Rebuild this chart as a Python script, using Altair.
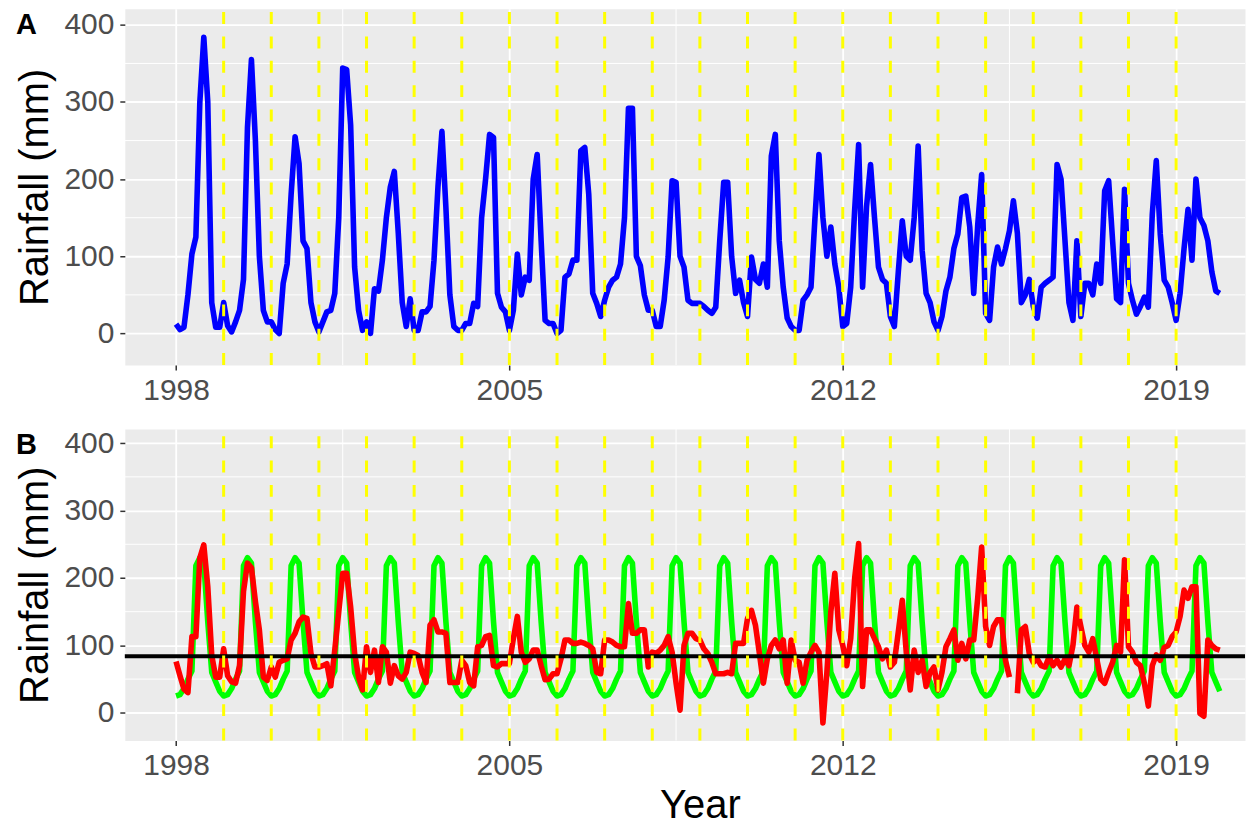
import altair as alt
import pandas as pd

# ---------------- data (monthly, Jan..Dec, 1998-2019) ----------------
blue = [
    12, 5, 8, 50, 103, 125, 300, 384, 300, 40, 8, 8,        # 1998
    40, 10, 2, 15, 30, 70, 267, 355, 250, 100, 30, 15,      # 1999
    15, 5, 0, 65, 90, 180, 255, 220, 120, 110, 40, 15,      # 2000
    2, 15, 28, 30, 52, 150, 344, 342, 270, 86, 30, 4,       # 2001
    15, 0, 58, 55, 95, 150, 190, 210, 130, 40, 9, 45,       # 2002
    4, 4, 28, 28, 35, 95, 190, 262, 163, 50, 9, 4,          # 2003
    4, 13, 13, 39, 35, 150, 200, 258, 254, 52, 34, 28,      # 2004
    4, 30, 103, 50, 73, 69, 200, 232, 120, 17, 13, 13,      # 2005
    0, 4, 73, 77, 95, 95, 237, 241, 180, 52, 39, 22,        # 2006
    43, 60, 69, 73, 90, 150, 292, 292, 100, 88, 50, 30,     # 2007
    30, 9, 9, 43, 99, 198, 196, 100, 86, 43, 39, 39,        # 2008
    39, 35, 30, 26, 34, 120, 196, 196, 100, 52, 69, 40,     # 2009
    22, 99, 70, 65, 90, 60, 230, 258, 120, 60, 20, 9,       # 2010
    4, 4, 43, 50, 60, 150, 232, 150, 100, 138, 90, 60,      # 2011
    9, 13, 60, 160, 245, 60, 165, 219, 150, 86, 70, 65,     # 2012
    22, 9, 80, 146, 100, 95, 150, 243, 108, 52, 40, 15,     # 2013
    4, 22, 55, 73, 110, 129, 176, 178, 138, 52, 140, 206,   # 2014
    26, 17, 86, 112, 90, 110, 133, 172, 130, 40, 50, 70,    # 2015
    35, 20, 60, 65, 69, 73, 219, 200, 120, 40, 17, 120,     # 2016
    22, 65, 65, 50, 90, 65, 185, 198, 120, 45, 40, 187,     # 2017
    65, 43, 25, 35, 47, 34, 155, 224, 129, 69, 60, 40,      # 2018
    17, 52, 110, 161, 95, 200, 150, 140, 120, 80, 55, 52,   # 2019
]

green = [
    25, 27, 36, 50, 62, 218, 230, 222, 135, 60, 46, 32,   # 1998
    25, 27, 36, 50, 62, 218, 230, 222, 135, 60, 46, 32,   # 1999
    25, 27, 36, 50, 62, 218, 230, 222, 135, 60, 46, 32,   # 2000
    25, 27, 36, 50, 62, 218, 230, 222, 135, 60, 46, 32,   # 2001
    25, 27, 36, 50, 62, 218, 230, 222, 135, 60, 46, 32,   # 2002
    25, 27, 36, 50, 62, 218, 230, 222, 135, 60, 46, 32,   # 2003
    25, 27, 36, 50, 62, 218, 230, 222, 135, 60, 46, 32,   # 2004
    25, 27, 36, 50, 62, 218, 230, 222, 135, 60, 46, 32,   # 2005
    25, 27, 36, 50, 62, 218, 230, 222, 135, 60, 46, 32,   # 2006
    25, 27, 36, 50, 62, 218, 230, 222, 135, 60, 46, 32,   # 2007
    25, 27, 36, 50, 62, 218, 230, 222, 135, 60, 46, 32,   # 2008
    25, 27, 36, 50, 62, 218, 230, 222, 135, 60, 46, 32,   # 2009
    25, 27, 36, 50, 62, 218, 230, 222, 135, 60, 46, 32,   # 2010
    25, 27, 36, 50, 62, 218, 230, 222, 135, 60, 46, 32,   # 2011
    25, 27, 36, 50, 62, 218, 230, 222, 135, 60, 46, 32,   # 2012
    25, 27, 36, 50, 62, 218, 230, 222, 135, 60, 46, 32,   # 2013
    25, 27, 36, 50, 62, 218, 230, 222, 135, 60, 46, 32,   # 2014
    25, 27, 36, 50, 62, 218, 230, 222, 135, 60, 46, 32,   # 2015
    25, 27, 36, 50, 62, 218, 230, 222, 135, 60, 46, 32,   # 2016
    25, 27, 36, 50, 62, 218, 230, 222, 135, 60, 46, 32,   # 2017
    25, 27, 36, 50, 62, 218, 230, 222, 135, 60, 46, 32,   # 2018
    25, 27, 36, 50, 62, 218, 230, 222, 135, 60, 46, 32,   # 2019
]

red = [
    76, 55, 35, 30, 113, 113, 230, 249, 187, 85, 53, 53,       # 1998
    95, 55, 46, 44, 70, 180, 222, 215, 165, 123, 53, 48,       # 1999
    68, 53, 75, 78, 80, 108, 118, 135, 142, 140, 88, 68,       # 2000
    68, 70, 73, 40, 93, 150, 207, 207, 157, 88, 53, 34,        # 2001
    98, 60, 93, 45, 98, 90, 44, 70, 55, 50, 60, 90,            # 2002
    88, 85, 60, 45, 130, 138, 120, 120, 118, 45, 45, 45,       # 2003
    78, 70, 45, 40, 98, 100, 113, 115, 70, 68, 73, 73,         # 2004
    73, 110, 143, 90, 75, 80, 93, 93, 70, 49, 50, 58,          # 2005
    58, 80, 108, 108, 103, 103, 105, 103, 100, 95, 60, 58,     # 2006
    108, 108, 105, 100, 98, 98, 162, 118, 118, 123, 123, 68,   # 2007
    90, 88, 93, 100, 113, 90, 44, 4, 100, 118, 118, 110,       # 2008
    108, 95, 88, 75, 58, 58, 58, 60, 58, 103, 103, 103,        # 2009
    140, 152, 130, 88, 44, 80, 100, 108, 95, 108, 44, 108,     # 2010
    78, 75, 44, 78, 90, 100, 90, -15, 60, 150, 207, 123,       # 2011
    100, 70, 110, 200, 251, 39, 123, 123, 110, 98, 80, 93,     # 2012
    68, 75, 120, 167, 90, 34, 93, 60, 78, 39, 60, 68,          # 2013
    34, 60, 98, 110, 123, 78, 103, 80, 108, 108, 170, 246,     # 2014
    128, 100, 128, 138, 138, 78, 53, None, 29, 123, 128, 88,   # 2015
    75, 80, 70, 68, 83, 70, 78, 68, 80, 70, 100, 157,          # 2016
    128, 100, 90, 110, 80, 50, 44, 60, 75, 100, 90, 227,       # 2017
    98, 90, 75, 70, 44, 10, 70, 86, 78, 97, 100, 113,          # 2018
    120, 143, 182, 170, 187, 187, -1, -5, 108, 100, 95, 93,    # 2019
]

mean_line = [84]
season_lines = list(range(1999, 2020))
x_ticks = [1998, 2005, 2012, 2019]
x_minor = [2001.5, 2008.5, 2015.5]
y_ticks = [0, 100, 200, 300, 400]
y_minor = [50, 150, 250, 350]
panel_tags = ["A", "B"]

# ---------------- frames ----------------
n = len(blue)
t = [1998 + i / 12 for i in range(n)]
df = pd.DataFrame({"t": t, "blue": blue, "green": green, "red": red})
vl_df = pd.DataFrame({"yr": season_lines})
xmin_df = pd.DataFrame({"x": x_minor})
ymin_df = pd.DataFrame({"y": y_minor})
hl_df = pd.DataFrame({"y": mean_line})

FONT = "Liberation Sans"
W = 1122
HA = 357
HB = 312
PX_PER_YEAR = 47.7
X0 = 1998 - 51.3 / PX_PER_YEAR
X1 = X0 + W / PX_PER_YEAR

xs = alt.Scale(domain=[X0, X1], nice=False, zero=False)
ys = alt.Scale(domain=[-41, 421], nice=False, zero=False)


def x_axis(title):
    kw = dict(values=x_ticks, format="d", labelPadding=5, labelFlush=False,
              gridWidth=1.8)
    if title:
        return alt.Axis(title=title, titlePadding=5, titleX=576, **kw)
    return alt.Axis(title=None, **kw)


y_axis = alt.Axis(values=y_ticks, title="Rainfall (mm)", labelPadding=6,
                  titlePadding=8, gridWidth=1.8)


def panel(H, tag, tag_y, xtitle, line_layers):
    minor_x = alt.Chart(xmin_df).mark_rule(color="white", strokeWidth=1).encode(
        x=alt.X("x:Q", scale=xs, axis=x_axis(xtitle)))
    minor_y = alt.Chart(ymin_df).mark_rule(color="white", strokeWidth=1).encode(
        y=alt.Y("y:Q", scale=ys, axis=y_axis))
    vlines = alt.Chart(vl_df).mark_rule(
        color="#FFFF00", strokeWidth=3, strokeDash=[12, 12.4]).encode(
        x=alt.X("yr:Q", scale=xs), y=alt.value(H), y2=alt.value(0))
    tag_df = pd.DataFrame({"lab": [tag]})
    label = alt.Chart(tag_df).mark_text(
        align="left", baseline="middle", font=FONT, fontSize=29,
        fontWeight="bold", color="black").encode(
        x=alt.value(-109), y=alt.value(tag_y), text="lab:N")
    layers = [minor_x, minor_y] + line_layers + [vlines, label]
    return alt.layer(*layers).properties(width=W, height=H)


LW = 5.6
blue_line = alt.Chart(df).mark_line(color="#0000FF", strokeWidth=LW,
                                    strokeJoin="round").encode(
    x=alt.X("t:Q", scale=xs), y=alt.Y("blue:Q", scale=ys))
green_line = alt.Chart(df).mark_line(color="#00FF00", strokeWidth=LW,
                                     strokeJoin="round").encode(
    x=alt.X("t:Q", scale=xs), y=alt.Y("green:Q", scale=ys))
red_line = alt.Chart(df).mark_line(color="#FF0000", strokeWidth=LW,
                                   strokeJoin="round").encode(
    x=alt.X("t:Q", scale=xs), y=alt.Y("red:Q", scale=ys))
hline = alt.Chart(hl_df).mark_rule(color="black", strokeWidth=4).encode(
    y=alt.Y("y:Q", scale=ys))

pA = panel(HA, panel_tags[0], 16.5, None, [blue_line])
pB = panel(HB, panel_tags[1], 16, "Year", [green_line, red_line, hline])

chart = alt.vconcat(pA, pB, spacing=21).properties(
    padding={"left": 7, "top": -2, "right": 0, "bottom": 0}
).configure_view(fill="#EBEBEB", stroke="transparent").configure_axis(
    domain=False, gridColor="white", tickColor="#333333", tickWidth=1.5,
    tickSize=5, labelFont=FONT, labelFontSize=30, labelColor="#4D4D4D",
    titleFont=FONT, titleFontSize=40, titleFontWeight="normal",
    titleColor="black"
)

chart.save("out.html", embed_options={"renderer": "svg", "actions": False})
